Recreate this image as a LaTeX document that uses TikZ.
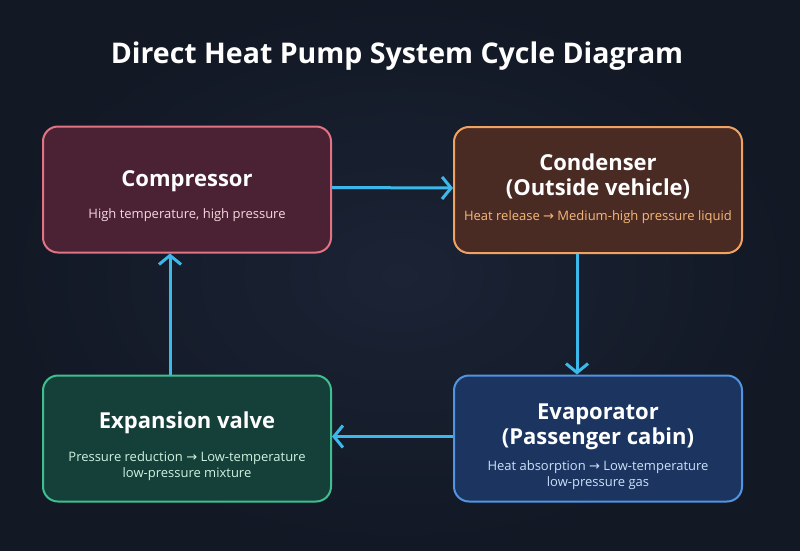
\documentclass[tikz,border=0pt]{standalone}
\usepackage{fontspec}
\setmainfont{Open Sans}
\newfontfamily\arrfont{DejaVu Sans}
\usetikzlibrary{arrows.meta}
\definecolor{bgA}{HTML}{1B2335}
\definecolor{bgB}{HTML}{121824}
\definecolor{arrc}{HTML}{3CB8EA}
\definecolor{compF}{HTML}{4A2234}
\definecolor{compD}{HTML}{E07484}
\definecolor{compT}{HTML}{F6D8DE}
\definecolor{condF}{HTML}{4A2B24}
\definecolor{condD}{HTML}{F0A262}
\definecolor{condT}{HTML}{F7B878}
\definecolor{expF}{HTML}{15403A}
\definecolor{expD}{HTML}{3FBF8F}
\definecolor{expT}{HTML}{CFF2E0}
\definecolor{evapF}{HTML}{1B3560}
\definecolor{evapD}{HTML}{5394E2}
\definecolor{evapT}{HTML}{CDE0FA}
\newcommand{\ra}{{\arrfont\char"2192}}
\tikzset{
  box/.style={draw, line width=2pt, rounded corners=15pt, minimum width=288pt, minimum height=126pt, inner sep=0pt},
  ttl/.style={text=white, font=\fontsize{22}{25}\selectfont\bfseries, align=center, inner sep=0pt},
  sub/.style={font=\fontsize{13}{16}\selectfont, align=center, inner sep=0pt},
  flow/.style={draw=arrc, line width=3pt, -{Straight Barb[length=9pt,width=22pt,line width=3pt]}},
}
\begin{document}
\begin{tikzpicture}[x=1pt,y=-1pt]
\useasboundingbox (0,0) rectangle (800,550);
\shade[inner color=bgA, outer color=bgB] (0,0) rectangle (800,550);
\node[text=white, font=\fontsize{28.5}{34}\selectfont\bfseries, inner sep=0pt] (title) at (397,56) {Direct Heat Pump System Cycle Diagram};

\node[box, fill=compF, draw=compD] (comp) at (187,189.5) {};
\node[box, fill=condF, draw=condD] (cond) at (598,190) {};
\node[box, fill=expF, draw=expD] (exp) at (187,438.5) {};
\node[box, fill=evapF, draw=evapD] (evap) at (598,438.5) {};

\node[ttl] (compt) at (187,181) {Compressor};
\node[sub, text=compT] (comps) at (187,215) {High temperature, high pressure};

\node[ttl] (condt) at (598,176) {Condenser\\(Outside vehicle)};
\node[sub, text=condT] (conds) at (598,217) {Heat release \ra{} Medium-high pressure liquid};

\node[ttl] (expt) at (187,423) {Expansion valve};
\node[sub, text=expT] (exps) at (187,466) {Pressure reduction \ra{} Low-temperature\\low-pressure mixture};

\node[ttl] (evapt) at (598,427) {Evaporator\\(Passenger cabin)};
\node[sub, text=evapT] (evaps) at (598,475) {Heat absorption \ra{} Low-temperature\\low-pressure gas};

\draw[flow] ([yshift=2pt]comp.east) -- ([yshift=2pt]cond.west);
\draw[flow] ([xshift=-21pt]cond.south) -- ([xshift=-21pt]evap.north);
\draw[flow] ([yshift=2pt]evap.west) -- ([yshift=2pt]exp.east);
\draw[flow] ([xshift=-17pt]exp.north) -- ([xshift=-17pt]comp.south);
\end{tikzpicture}
\end{document}
